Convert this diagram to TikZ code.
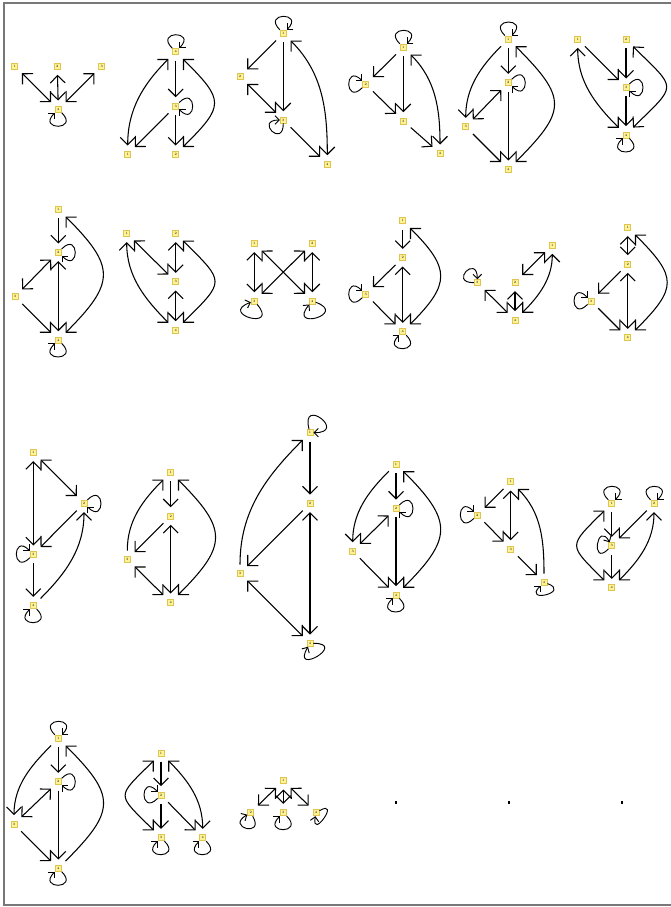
\documentclass[tikz,border=0pt]{standalone}
\usetikzlibrary{arrows.meta}
\definecolor{vfill}{RGB}{255,243,150}
\definecolor{vborder}{RGB}{222,196,80}
\definecolor{framec}{RGB}{120,120,120}
\tikzset{
  vtx/.style={draw=vborder, fill=vfill, line width=0.6pt, inner sep=0pt, minimum size=4.6pt, font=\fontsize{2.5pt}{3pt}\selectfont},
  dotn/.style={fill=black, inner sep=0pt, minimum size=1.8pt},
  >={Straight Barb[length=5.6pt,width=11.2pt]},
  e/.style={line width=0.8pt, shorten >=4pt, shorten <=4pt},
  lp/.style={line width=0.7pt, -{Straight Barb[length=3.2pt,width=6.4pt]}},
}
% loop: node, out angle, in angle (screen angles)
\newcommand\myloop[3]{\draw[lp] (#1.#2) .. controls +(#2:19pt) and +(#3:19pt) .. (#1.#3);}
\newcommand\mybigloop[3]{\draw[lp] (#1.#2) .. controls +(#2:26pt) and +(#3:26pt) .. (#1.#3);}
\newcommand\rcurve[3]{(#1) to[out=-45,in=45,looseness=#3] (#2)}
\newcommand\lcurve[3]{(#1) to[out=-135,in=135,looseness=#3] (#2)}
\begin{document}
\begin{tikzpicture}[x=0.75pt,y=-0.75pt]
\useasboundingbox (0,0) rectangle (671,907);
\fill[white] (0,0) rectangle (671,907);
\draw[framec, line width=1.1pt] (4,3) rectangle (690,905);

% G1
\node[vtx] (a1) at (14.7,66) {1};
\node[vtx] (a2) at (57.3,66) {2};
\node[vtx] (a3) at (101.7,66) {3};
\node[vtx] (a4) at (58.3,109.3) {4};
\draw[e,<->] (a4) -- (a1);
\draw[e,<->] (a4) -- (a2);
\draw[e,<->] (a4) -- (a3);
\myloop{a4}{-45}{-135}

% G2
\node[vtx] (b4) at (175.7,51.7) {4};
\node[vtx] (b3) at (175.7,106) {3};
\node[vtx] (b1) at (127.7,154.3) {1};
\node[vtx] (b2) at (175.7,154.3) {2};
\draw[e,->] (b4) -- (b3);
\draw[e,->] (b3) -- (b2);
\draw[e,->] (b3) -- (b1);
\draw[e,<->] (b4) to[out=-135,in=90] (b1);
\draw[e,<->] \rcurve{b4}{b2}{1.73};
\myloop{b4}{135}{45}
\myloop{b3}{45}{-45}

% G3
\node[vtx] (cA) at (283.3,33.3) {1};
\node[vtx] (cB) at (240,76.7) {2};
\node[vtx] (cC) at (283.3,120) {3};
\node[vtx] (cD) at (327.3,164) {4};
\draw[e,->] (cA) -- (cB);
\draw[e,->] (cA) -- (cC);
\draw[e,<->] (cB) -- (cC);
\draw[e,->] (cC) -- (cD);
\draw[e,<->] (cA) to[out=-45,in=90] (cD);
\myloop{cA}{135}{45}
\myloop{cC}{-90}{180}

% G4
\node[vtx] (dA) at (403.3,47.3) {1};
\node[vtx] (dB) at (365.7,84.3) {2};
\node[vtx] (dC) at (403.3,121) {3};
\node[vtx] (dD) at (440,153.3) {4};
\draw[e,->] (dA) -- (dB);
\draw[e,->] (dB) -- (dC);
\draw[e,->] (dA) -- (dC);
\draw[e,->] (dC) -- (dD);
\draw[e,<->] (dA) to[out=-45,in=90] (dD);
\myloop{dA}{135}{45}
\myloop{dB}{225}{135}

% G5
\node[vtx] (eA) at (508.3,39) {1};
\node[vtx] (eB) at (508.3,82.7) {2};
\node[vtx] (eC) at (465.7,126.7) {3};
\node[vtx] (eD) at (508.3,169.3) {4};
\draw[e,->] (eA) -- (eB);
\draw[e,->] (eA) to[out=-135,in=90] (eC);
\draw[e,<->] (eB) -- (eC);
\draw[e,->] (eB) -- (eD);
\draw[e,->] (eC) -- (eD);
\draw[e,<->] \rcurve{eA}{eD}{1.63};
\myloop{eA}{135}{45}
\myloop{eB}{45}{-45}

% G6
\node[vtx] (fA) at (577.7,39) {1};
\node[vtx] (fB) at (626,39) {2};
\node[vtx] (fC) at (626,87.3) {3};
\node[vtx] (fD) at (626,135) {4};
\draw[e,->] (fA) -- (fC);
\draw[e,->] (fB) -- (fC);
\draw[e,->] (fC) -- (fD);
\draw[e,<->] (fA) to[out=-90,in=135] (fD);
\draw[e,<->] \rcurve{fB}{fD}{1.96};
\myloop{fC}{45}{-45}
\myloop{fD}{-45}{-135}

% G7
\node[vtx] (gA) at (58.3,209.3) {1};
\node[vtx] (gB) at (58.3,252.3) {2};
\node[vtx] (gC) at (15,296.7) {3};
\node[vtx] (gD) at (58.3,340) {4};
\draw[e,->] (gA) -- (gB);
\draw[e,<->] (gB) -- (gC);
\draw[e,<->] (gB) -- (gD);
\draw[e,->] (gC) -- (gD);
\draw[e,<->] \rcurve{gA}{gD}{1.58};
\myloop{gB}{45}{-45}
\myloop{gD}{-45}{-135}

% G8
\node[vtx] (hA) at (126.7,233.3) {1};
\node[vtx] (hB) at (175.7,233.3) {2};
\node[vtx] (hC) at (175.7,281.7) {3};
\node[vtx] (hD) at (175.7,330) {4};
\draw[e,<->] (hA) -- (hC);
\draw[e,<->] (hB) -- (hC);
\draw[e,<->] (hC) -- (hD);
\draw[e,<->] (hA) to[out=-90,in=135] (hD);
\draw[e,<->] \rcurve{hB}{hD}{1.87};

% G9
\node[vtx] (iA) at (254.3,243.3) {1};
\node[vtx] (iB) at (312.3,243.3) {2};
\node[vtx] (iC) at (254.3,301) {3};
\node[vtx] (iD) at (312.3,301) {4};
\draw[e,<->] (iA) -- (iC);
\draw[e,<->] (iB) -- (iD);
\draw[e,<->] (iA) -- (iD);
\draw[e,<->] (iB) -- (iC);
\mybigloop{iC}{-50}{-160}
\mybigloop{iD}{-20}{-130}

% G10
\node[vtx] (jA) at (402.7,220.7) {1};
\node[vtx] (jB) at (402.7,257.7) {2};
\node[vtx] (jC) at (365.7,294.3) {3};
\node[vtx] (jD) at (402.7,331.7) {4};
\draw[e,->] (jA) -- (jB);
\draw[e,->] (jB) -- (jC);
\draw[e,<->] (jB) -- (jD);
\draw[e,->] (jC) -- (jD);
\draw[e,<->] \rcurve{jA}{jD}{1.55};
\myloop{jC}{225}{135}
\myloop{jD}{-45}{-135}

% G11
\node[vtx] (kA) at (552.3,245) {1};
\node[vtx] (kB) at (515,282.3) {2};
\node[vtx] (kC) at (477.3,282.7) {3};
\node[vtx] (kD) at (515,320) {4};
\draw[e,<->] (kA) -- (kB);
\draw[e,<->] (kB) -- (kD);
\draw[e,<->] (kC) -- (kD);
\draw[e,<->] (kA) to[out=-90,in=45] (kD);
\myloop{kC}{180}{90}

% G12
\node[vtx] (lA) at (627.7,227.3) {1};
\node[vtx] (lB) at (627.7,264) {2};
\node[vtx] (lC) at (591,301) {3};
\node[vtx] (lD) at (627.7,337.7) {4};
\draw[e,<->] (lA) -- (lB);
\draw[e,->] (lB) -- (lC);
\draw[e,<->] (lB) -- (lD);
\draw[e,->] (lC) -- (lD);
\draw[e,<->] \rcurve{lA}{lD}{1.63};
\myloop{lC}{225}{135}

% G13
\node[vtx] (mA) at (33.3,452.3) {1};
\node[vtx] (mB) at (84,503.3) {2};
\node[vtx] (mC) at (33.3,554.3) {3};
\node[vtx] (mD) at (33.3,605.7) {4};
\draw[e,<->] (mA) -- (mB);
\draw[e,<->] (mA) -- (mC);
\draw[e,->] (mB) -- (mC);
\draw[e,->] (mC) -- (mD);
\draw[e,->] (mD) to[out=45,in=-90] (mB);
\myloop{mB}{45}{-45}
\myloop{mC}{225}{135}
\myloop{mD}{-45}{-135}

% G14
\node[vtx] (nA) at (170.7,472.3) {1};
\node[vtx] (nB) at (170.7,516) {2};
\node[vtx] (nC) at (127.3,559.3) {3};
\node[vtx] (nD) at (170.7,602.3) {4};
\draw[e,->] (nA) -- (nB);
\draw[e,->] (nB) -- (nC);
\draw[e,->] (nC) to[out=90,in=-135] (nA);
\draw[e,<->] (nC) -- (nD);
\draw[e,<->] (nB) -- (nD);
\draw[e,<->] \rcurve{nA}{nD}{1.58};

% G15
\node[vtx] (oA) at (310,432.7) {1};
\node[vtx] (oB) at (310,503.3) {2};
\node[vtx] (oC) at (240,573.3) {3};
\node[vtx] (oD) at (310,643.3) {4};
\draw[e,->] (oA) -- (oB);
\draw[e,->] (oC) to[out=90,in=-135] (oA);
\draw[e,->] (oB) -- (oC);
\draw[e,<->] (oC) -- (oD);
\draw[e,<->] (oB) -- (oD);
\mybigloop{oA}{105}{0}
\mybigloop{oD}{0}{-120}

% G16
\node[vtx] (pA) at (396,464) {1};
\node[vtx] (pB) at (396,508.3) {2};
\node[vtx] (pC) at (352.7,551) {3};
\node[vtx] (pD) at (396,595) {4};
\draw[e,->] (pA) -- (pB);
\draw[e,->] (pA) to[out=-135,in=90] (pC);
\draw[e,<->] (pB) -- (pC);
\draw[e,->] (pB) -- (pD);
\draw[e,->] (pC) -- (pD);
\draw[e,<->] \rcurve{pA}{pD}{1.56};
\myloop{pB}{45}{-45}
\myloop{pD}{-45}{-135}

% G17
\node[vtx] (qA) at (510.7,481.7) {1};
\node[vtx] (qB) at (477.3,515) {2};
\node[vtx] (qC) at (510.7,549) {3};
\node[vtx] (qD) at (544,582.3) {4};
\draw[e,->] (qA) -- (qB);
\draw[e,->] (qB) -- (qC);
\draw[e,<->] (qA) -- (qC);
\draw[e,->] (qC) -- (qD);
\draw[e,->] (qD) to[out=90,in=-45] (qA);
\myloop{qB}{225}{135}
\myloop{qD}{-20}{-135}

% G18
\node[vtx] (rA) at (611.7,503.3) {1};
\node[vtx] (rB) at (654,503.3) {2};
\node[vtx] (rC) at (611.7,545.7) {3};
\node[vtx] (rD) at (611.7,587.7) {4};
\draw[e,->] (rA) -- (rC);
\draw[e,->] (rB) -- (rC);
\draw[e,->] (rC) -- (rD);
\draw[e,<->] \lcurve{rA}{rD}{1.9};
\draw[e,<->] (rB) to[out=-90,in=45] (rD);
\myloop{rA}{135}{45}
\myloop{rB}{135}{45}
\myloop{rC}{225}{120}

% G19
\node[vtx] (sA) at (58.3,738.3) {1};
\node[vtx] (sB) at (58.3,781.7) {2};
\node[vtx] (sC) at (14,824) {3};
\node[vtx] (sD) at (58.3,868.3) {4};
\draw[e,->] (sA) -- (sB);
\draw[e,->] (sA) to[out=-135,in=90] (sC);
\draw[e,<->] (sB) -- (sC);
\draw[e,->] (sB) -- (sD);
\draw[e,->] (sC) -- (sD);
\draw[e,->] (sD) to[out=45,in=-45,looseness=1.6] (sA);
\myloop{sA}{135}{45}
\myloop{sB}{45}{-45}
\myloop{sD}{-45}{-135}

% G20
\node[vtx] (tA) at (161,753.3) {1};
\node[vtx] (tB) at (161,795) {2};
\node[vtx] (tC) at (161,837.7) {3};
\node[vtx] (tD) at (202.7,837.7) {4};
\draw[e,->] (tA) -- (tB);
\draw[e,->] (tB) -- (tC);
\draw[e,->] (tB) -- (tD);
\draw[e,<->] \lcurve{tA}{tC}{1.95};
\draw[e,<->] (tA) to[out=-45,in=90] (tD);
\myloop{tB}{225}{135}
\myloop{tC}{-45}{-135}
\myloop{tD}{-45}{-135}

% G21
\node[vtx] (uA) at (283.3,780.7) {1};
\node[vtx] (uB) at (250.7,812.7) {2};
\node[vtx] (uC) at (283.3,812.7) {3};
\node[vtx] (uD) at (316,812.7) {4};
\draw[e,<->] (uA) -- (uB);
\draw[e,<->] (uA) -- (uC);
\draw[e,<->] (uA) -- (uD);
\myloop{uB}{-60}{-150}
\myloop{uC}{-45}{-135}
\myloop{uD}{30}{-100}

% isolated dots
\node[dotn] (v1) at (396,802.3) {};
\node[dotn] (v2) at (509,802.3) {};
\node[dotn] (v3) at (621.7,802.3) {};
\end{tikzpicture}
\end{document}
